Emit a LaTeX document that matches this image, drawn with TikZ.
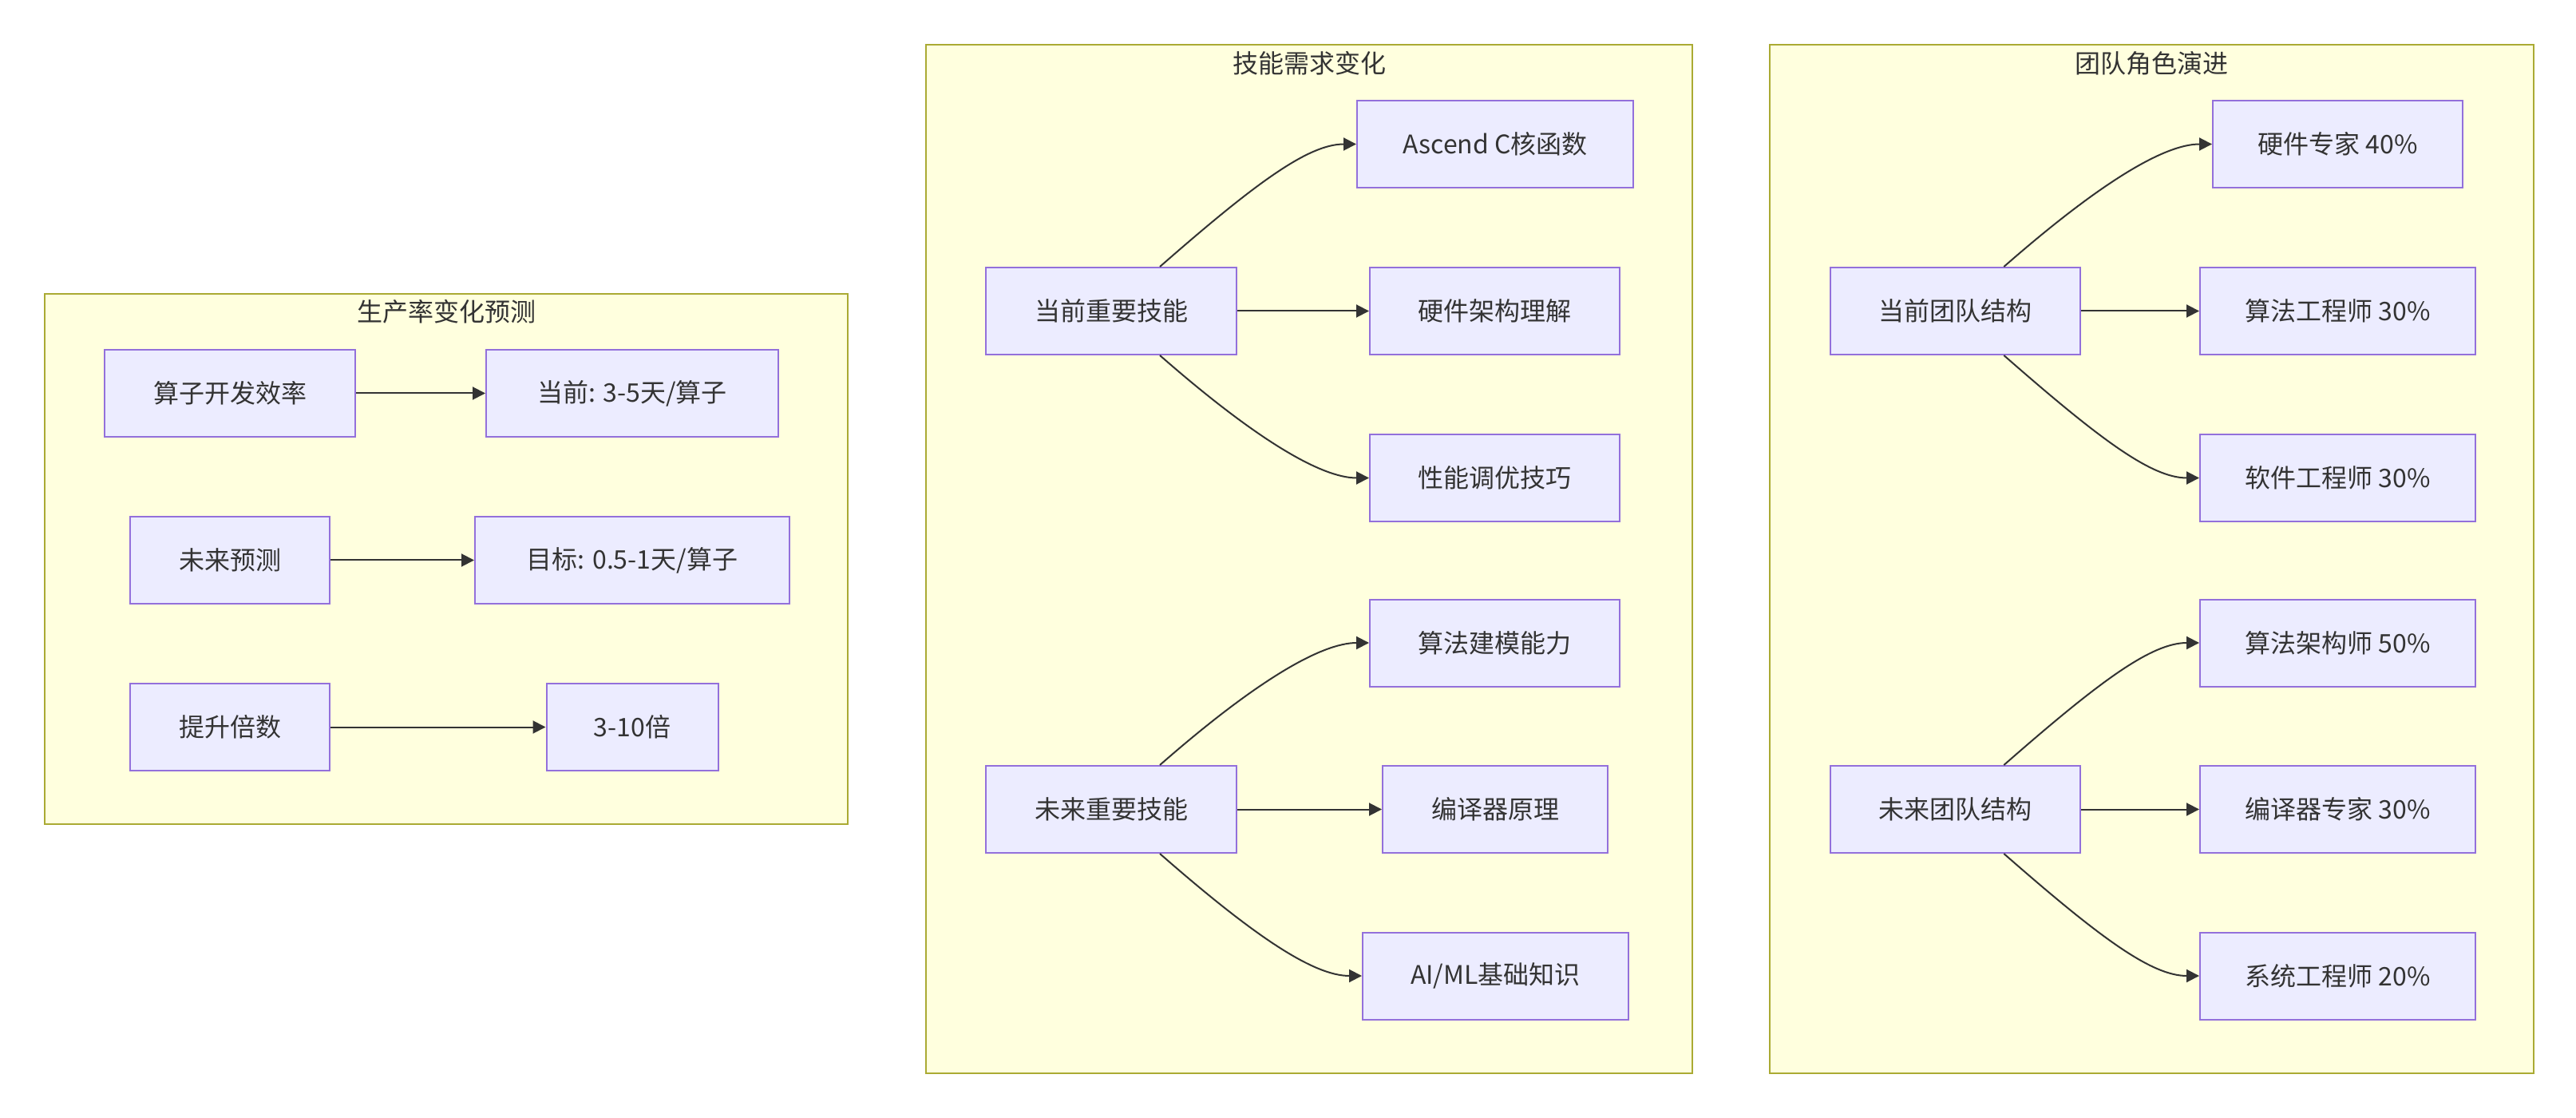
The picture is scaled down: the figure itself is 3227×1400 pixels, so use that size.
\documentclass[tikz,border=0pt]{standalone}
\usepackage{fontspec}
\setmainfont{Noto Sans CJK SC}
\usetikzlibrary{arrows.meta,calc}
\definecolor{clfill}{HTML}{FFFFDE}
\definecolor{cldraw}{HTML}{AAAA33}
\definecolor{nfill}{HTML}{ECECFF}
\definecolor{ndraw}{HTML}{9370DB}
\definecolor{ink}{HTML}{333333}
\tikzset{
  cluster/.style={draw=cldraw, fill=clfill, line width=1pt, inner sep=0pt},
  box/.style={draw=ndraw, fill=nfill, line width=1pt, inner sep=0pt, text=ink,
    minimum height=54.5pt, font=\fontsize{16pt}{19pt}\selectfont},
  ctitle/.style={text=ink, inner sep=0pt, font=\fontsize{16pt}{19pt}\selectfont},
  edge/.style={draw=ink, line width=1pt, -{Triangle[length=8pt,width=8pt]}},
  up/.style={edge},
}
\begin{document}
\begin{tikzpicture}[x=0.5pt,y=-0.5pt]
\useasboundingbox[fill=white] (0,0) rectangle (3227,1400);
% clusters
\node[cluster, minimum width=503pt, minimum height=332pt] (c1) at (559,700) {};
\node[ctitle] (c1t) at (559,390) {生产率变化预测};
\node[cluster, minimum width=480pt, minimum height=644pt] (c2) at (1640,700) {};
\node[ctitle] (c2t) at (1640,79) {技能需求变化};
\node[cluster, minimum width=478.5pt, minimum height=644pt] (c3) at (2695.5,700) {};
\node[ctitle] (c3t) at (2695.5,79) {团队角色演进};
% cluster 1
\node[box, minimum width=157pt] (n1) at (288,492.5) {算子开发效率};
\node[box, minimum width=183pt] (n2) at (792,492.5) {当前: 3-5天/算子};
\node[box, minimum width=125pt] (n3) at (288,701.5) {未来预测};
\node[box, minimum width=197pt] (n4) at (792,701.5) {目标: 0.5-1天/算子};
\node[box, minimum width=125pt] (n5) at (288,910.5) {提升倍数};
\node[box, minimum width=107.5pt] (n6) at (792,910.5) {3-10倍};
\draw[edge] (n1.east) -- (n2.west);
\draw[edge] (n3.east) -- (n4.west);
\draw[edge] (n5.east) -- (n6.west);
% cluster 2
\node[box, minimum width=157pt] (s1) at (1392,389.5) {当前重要技能};
\node[box, minimum width=173pt] (s2) at (1873,180.5) {Ascend C核函数};
\node[box, minimum width=156.5pt] (s3) at (1872.5,389.5) {硬件架构理解};
\node[box, minimum width=156.5pt] (s4) at (1872.5,598.5) {性能调优技巧};
\node[box, minimum width=156.5pt] (s5) at (1872.5,805) {算法建模能力};
\node[box, minimum width=157pt] (s6) at (1392,1013.5) {未来重要技能};
\node[box, minimum width=141pt] (s7) at (1873,1013.5) {编译器原理};
\node[box, minimum width=166.5pt] (s8) at (1873.5,1222) {AI/ML基础知识};
\draw[edge] ($(s1.north west)!0.693!(s1.north east)$) .. controls +(120,-105) and +(-60,0) .. (s2.west);
\draw[edge] (s1.east) -- (s3.west);
\draw[edge] ($(s1.south west)!0.693!(s1.south east)$) .. controls +(120,105) and +(-60,0) .. (s4.west);
\draw[edge] ($(s6.north west)!0.693!(s6.north east)$) .. controls +(120,-105) and +(-60,0) .. (s5.west);
\draw[edge] (s6.east) -- (s7.west);
\draw[edge] ($(s6.south west)!0.693!(s6.south east)$) .. controls +(120,105) and +(-60,0) .. (s8.west);
% cluster 3
\node[box, minimum width=156.5pt] (t1) at (2449.5,389.5) {当前团队结构};
\node[box, minimum width=156.5pt] (t2) at (2928.5,180.5) {硬件专家 40\%};
\node[box, minimum width=172.5pt] (t3) at (2928.5,389.5) {算法工程师 30\%};
\node[box, minimum width=172.5pt] (t4) at (2928.5,598.5) {软件工程师 30\%};
\node[box, minimum width=172.5pt] (t5) at (2928.5,805) {算法架构师 50\%};
\node[box, minimum width=156.5pt] (t6) at (2449.5,1013.5) {未来团队结构};
\node[box, minimum width=172.5pt] (t7) at (2928.5,1013.5) {编译器专家 30\%};
\node[box, minimum width=172.5pt] (t8) at (2928.5,1222) {系统工程师 20\%};
\draw[edge] ($(t1.north west)!0.693!(t1.north east)$) .. controls +(120,-105) and +(-60,0) .. (t2.west);
\draw[edge] (t1.east) -- (t3.west);
\draw[edge] ($(t1.south west)!0.693!(t1.south east)$) .. controls +(120,105) and +(-60,0) .. (t4.west);
\draw[edge] ($(t6.north west)!0.693!(t6.north east)$) .. controls +(120,-105) and +(-60,0) .. (t5.west);
\draw[edge] (t6.east) -- (t7.west);
\draw[edge] ($(t6.south west)!0.693!(t6.south east)$) .. controls +(120,105) and +(-60,0) .. (t8.west);
\end{tikzpicture}
\end{document}
